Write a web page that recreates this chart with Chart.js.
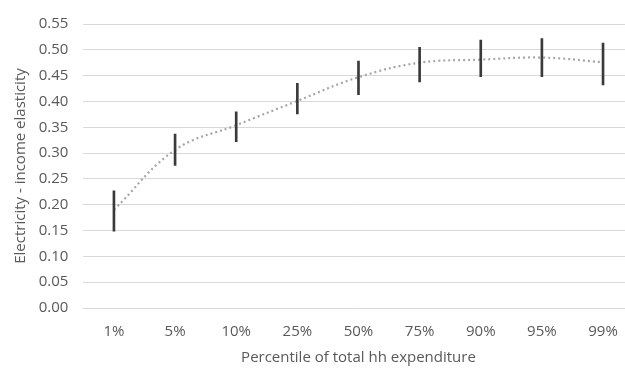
<!DOCTYPE html>
<html>
<head>
<meta charset="utf-8">
<script src="https://cdn.jsdelivr.net/npm/chart.js@4/dist/chart.umd.min.js"></script>
<style>
  html, body { margin: 0; padding: 0; background: #fff; overflow: hidden; }
  #wrap { width: 636px; height: 371px; position: relative; }
</style>
</head>
<body>
<div id="wrap"><canvas id="c"></canvas></div>
<script>
// Percentiles of total household expenditure
const percentiles = ['1%', '5%', '10%', '25%', '50%', '75%', '90%', '95%', '99%'];
// Point estimates of the income elasticity of electricity demand
const elasticity = [0.190, 0.306, 0.354, 0.401, 0.447, 0.475, 0.481, 0.485, 0.476];
// Confidence interval bounds
const ciLow  = [0.149, 0.276, 0.322, 0.376, 0.413, 0.438, 0.448, 0.448, 0.432];
const ciHigh = [0.227, 0.337, 0.380, 0.435, 0.478, 0.505, 0.519, 0.522, 0.513];
// Value axis ticks
const yTicks = [0, 0.05, 0.10, 0.15, 0.20, 0.25, 0.30, 0.35, 0.40, 0.45, 0.50, 0.55];

const FONT = "'Open Sans', 'DejaVu Sans', sans-serif";
const TEXT = '#595959';
const SIZE = 15;

new Chart(document.getElementById('c'), {
  data: {
    labels: percentiles,
    datasets: [
      {
        // smoothed dotted trend through the point estimates
        type: 'line',
        data: elasticity,
        borderColor: '#a6a6a6',
        borderWidth: 2.2,
        borderDash: [2, 3],
        tension: 0.4,
        pointRadius: 0,
        fill: false,
        order: 2
      },
      {
        // confidence intervals as thin floating bars
        type: 'bar',
        data: ciLow.map((lo, i) => [lo, ciHigh[i]]),
        backgroundColor: '#3a3a3a',
        borderWidth: 0,
        barThickness: 2,
        order: 1
      }
    ]
  },
  options: {
    responsive: true,
    maintainAspectRatio: false,
    animation: false,
    layout: { autoPadding: false, padding: { top: 14, right: 2.4, left: 0, bottom: 0 } },
    plugins: { legend: { display: false }, tooltip: { enabled: false } },
    scales: {
      x: {
        offset: true,
        grid: { display: false, drawTicks: false },
        border: { display: false },
        ticks: { color: TEXT, font: { family: FONT, size: SIZE }, padding: 15 },
        title: {
          display: true,
          text: 'Percentile of total hh expenditure',
          color: TEXT,
          font: { family: FONT, size: SIZE },
          padding: { top: -7, bottom: 4 }
        }
      },
      y: {
        min: 0,
        max: 0.55,
        afterBuildTicks: (axis) => { axis.ticks = yTicks.map(v => ({ value: v })); },
        grid: { color: '#d9d9d9', lineWidth: 1, drawTicks: false },
        border: { display: false },
        ticks: {
          color: TEXT,
          font: { family: FONT, size: SIZE },
          padding: 15,
          callback: (v) => Number(v).toFixed(2)
        },
        title: {
          display: true,
          text: 'Electricity - income elasticity',
          color: TEXT,
          font: { family: FONT, size: SIZE },
          padding: { top: 12, bottom: -6.3 }
        }
      }
    }
  }
});
</script>
</body>
</html>
